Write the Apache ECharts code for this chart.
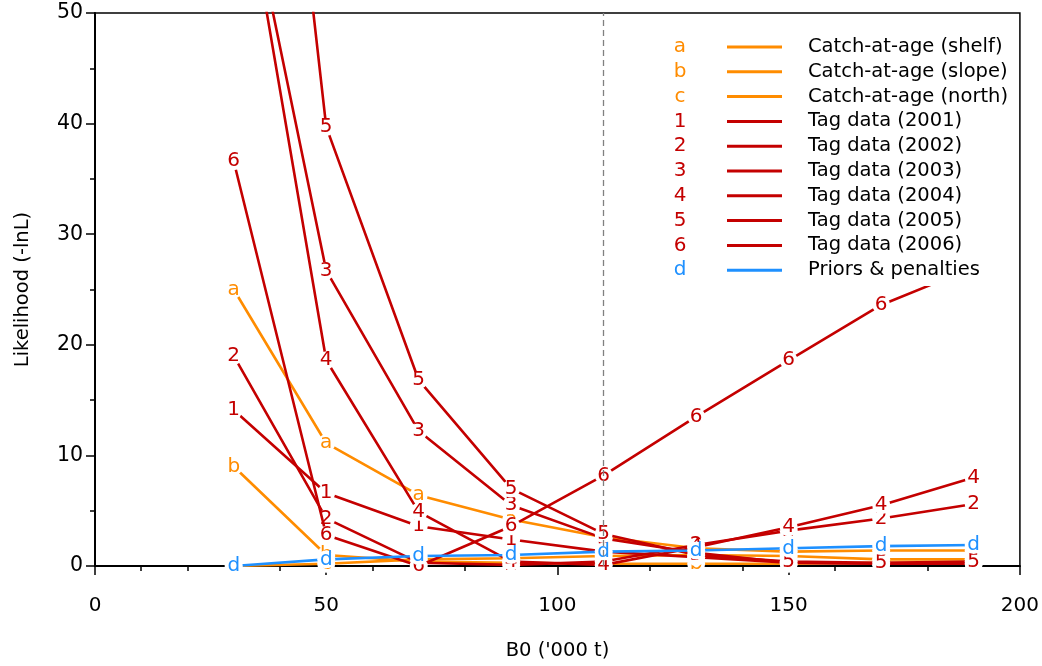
<!DOCTYPE html>
<html><head><meta charset="utf-8">
<script src="https://cdn.jsdelivr.net/npm/echarts/dist/echarts.min.js"></script>
<style>html,body{margin:0;padding:0;background:#fff}#c{width:1042px;height:666px}</style>
</head><body><div id="c"></div>
<script>
// ---- data ----
const xValues = [30, 50, 70, 90, 110, 130, 150, 170, 190];
const seriesNames = ['Catch-at-age (shelf)', 'Catch-at-age (slope)', 'Catch-at-age (north)',
  'Tag data (2001)', 'Tag data (2002)', 'Tag data (2003)', 'Tag data (2004)', 'Tag data (2005)', 'Tag data (2006)',
  'Priors & penalties'];
const seriesChars = ['a', 'b', 'c', '1', '2', '3', '4', '5', '6', 'd'];
const catchShelf = [25.0, 11.1, 6.4, 4.2, 2.6, 1.6, 1.3, 1.4, 1.4];
const catchSlope = [9.0, 1.0, 0.4, 0.3, 0.2, 0.2, 0.2, 0.3, 0.3];
const catchNorth = [0.0, 0.2, 0.6, 0.7, 0.9, 1.0, 0.9, 0.6, 0.6];
const tag2001 = [14.1, 6.6, 3.6, 2.4, 1.3, 0.8, 0.3, 0.2, 0.3];
const tag2002 = [19.0, 4.3, 0.3, 0.1, 0.4, 1.9, 3.2, 4.3, 5.6];
const tag2003 = [67.2, 26.7, 12.2, 5.5, 2.5, 1.2, 0.3, 0.2, 0.2];
const tag2004 = [67.5, 18.6, 4.9, 0.4, 0.1, 1.7, 3.5, 5.5, 8.0];
const tag2005 = [114, 39.7, 16.8, 7.0, 2.9, 1.0, 0.4, 0.3, 0.4];
const tag2006 = [36.6, 2.8, 0.0, 3.6, 8.2, 13.5, 18.6, 23.6, 27.0];
const priors = [0.0, 0.6, 0.9, 1.0, 1.3, 1.4, 1.6, 1.8, 1.9];
const seriesValues = [catchShelf, catchSlope, catchNorth, tag2001, tag2002, tag2003, tag2004, tag2005, tag2006, priors];
const xTicks = [0, 50, 100, 150, 200];
const yTicks = [0, 10, 20, 30, 40, 50];
const refLineX = 110;

// ---- style ----
const ORANGE = '#FF8C00', RED = '#C40000', BLUE = '#1E90FF';
const colors = [ORANGE, ORANGE, ORANGE, RED, RED, RED, RED, RED, RED, BLUE];
const FONT = 'DejaVu Sans';

const chart = echarts.init(document.getElementById('c'), null, {renderer: 'canvas'});

const series = seriesValues.map((vals, i) => ({
  type: 'line',
  name: seriesNames[i],
  data: xValues.map((x, j) => [x, vals[j]]),
  symbol: 'circle',
  symbolSize: 18,
  clip: true,
  itemStyle: {color: '#fff', borderWidth: 0},
  lineStyle: {color: colors[i], width: 2.6},
  label: {show: true, position: 'inside', formatter: seriesChars[i], color: colors[i],
    fontSize: 20, fontFamily: FONT},
  emphasis: {disabled: true},
  z: 2 + i * 0.01
}));
series[0].markLine = {
  silent: true, symbol: 'none', label: {show: false},
  lineStyle: {color: '#808080', type: [6, 4], width: 1.3},
  data: [{xAxis: refLineX}]
};

const rowH = 24.8, row0 = 47;
const graphics = [{
  type: 'rect', left: 655, top: 28, z: 3,
  shape: {width: 360, height: 258}, style: {fill: '#fff'}
}];
seriesChars.forEach((ch, i) => {
  graphics.push({
    type: 'text', x: 680, y: row0 + i * rowH, z: 10,
    style: {text: ch, fill: colors[i], font: '20px "' + FONT + '"', textAlign: 'center', textVerticalAlign: 'middle'}
  });
});

chart.setOption({
  animation: false,
  backgroundColor: '#fff',
  grid: {left: 95, right: 22, top: 13, bottom: 98, show: true, borderColor: '#000', borderWidth: 1.5,
    backgroundColor: 'transparent'},
  legend: {
    orient: 'vertical', left: 727, top: row0 - 10, padding: 0, z: 10,
    itemWidth: 55, itemHeight: 3, itemGap: rowH - 20, icon: 'rect',
    selectedMode: false,
    textStyle: {fontSize: 19.5, fontFamily: FONT, color: '#000', lineHeight: 20, padding: [0, 0, 0, 21]},
    data: seriesNames.map((n, i) => ({name: n, itemStyle: {color: colors[i]}}))
  },
  xAxis: {
    type: 'value', min: xTicks[0], max: xTicks[xTicks.length - 1], interval: 50,
    name: "B0 ('000 t)", nameLocation: 'middle', nameGap: 75,
    nameTextStyle: {fontSize: 19.5, fontFamily: FONT, color: '#000'},
    axisLine: {onZero: false, lineStyle: {color: '#000', width: 2}},
    axisTick: {length: 9, lineStyle: {color: '#000', width: 1.5}},
    minorTick: {show: true, splitNumber: 5, length: 5, lineStyle: {color: '#000', width: 1.5}},
    splitLine: {show: false},
    axisLabel: {margin: 30, fontSize: 20, fontFamily: FONT, color: '#000'}
  },
  yAxis: {
    type: 'value', min: yTicks[0], max: yTicks[yTicks.length - 1], interval: 10,
    name: 'Likelihood (-lnL)', nameLocation: 'middle', nameGap: 62,
    nameTextStyle: {fontSize: 19.5, fontFamily: FONT, color: '#000'},
    axisLine: {show: true, lineStyle: {color: '#000', width: 2}},
    axisTick: {show: true, length: 9, lineStyle: {color: '#000', width: 1.5}},
    minorTick: {show: true, splitNumber: 2, length: 5, lineStyle: {color: '#000', width: 1.5}},
    splitLine: {show: false},
    axisLabel: {margin: 12, fontSize: 20.5, fontFamily: FONT, color: '#000'}
  },
  graphic: graphics,
  series: series
});
</script>
</body></html>
